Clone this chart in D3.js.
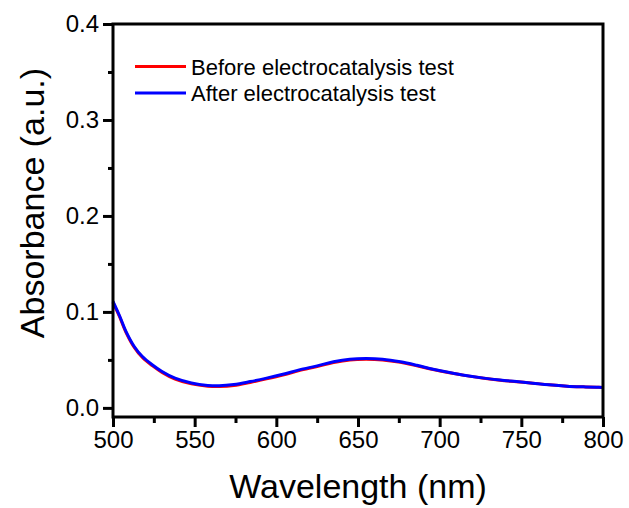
<!DOCTYPE html>
<html>
<head>
<meta charset="utf-8">
<script src="https://cdn.jsdelivr.net/npm/d3@7"></script>
<style>
  body { margin: 0; background: #fff; }
  text { font-family: "Liberation Sans", Arial, sans-serif; }
</style>
</head>
<body>
<div id="chart"></div>
<script>
// wavelength samples (nm)
var wavelength = [500, 504, 508, 513, 518, 524, 530, 538, 548, 558, 565, 574, 584, 594, 604, 614, 625, 635, 645, 655, 665, 676, 686, 696, 706, 716, 727, 737, 747, 757, 767, 778, 788, 796, 800];
// absorbance, before and after the test
var before = [0.110, 0.095, 0.0785, 0.0630, 0.0525, 0.0440, 0.0370, 0.0300, 0.0250, 0.0226, 0.0222, 0.0232, 0.0265, 0.0302, 0.0342, 0.0388, 0.0430, 0.0472, 0.0500, 0.0507, 0.0500, 0.0474, 0.0438, 0.0400, 0.0366, 0.0336, 0.0309, 0.0289, 0.0273, 0.0257, 0.0240, 0.0226, 0.0219, 0.0215, 0.0213];
var after  = [0.111, 0.096, 0.0795, 0.0640, 0.0535, 0.0450, 0.0380, 0.0310, 0.0260, 0.0234, 0.0230, 0.0243, 0.0274, 0.0310, 0.0350, 0.0396, 0.0438, 0.0480, 0.0507, 0.0514, 0.0507, 0.0480, 0.0444, 0.0403, 0.0368, 0.0337, 0.0310, 0.0290, 0.0274, 0.0257, 0.0240, 0.0226, 0.0219, 0.0215, 0.0213];
var seriesNames = ["Before electrocatalysis test", "After electrocatalysis test"];
var seriesColors = ["#ff0000", "#0000ff"];
var xTicks = [500, 550, 600, 650, 700, 750, 800];
var yTicks = [0.0, 0.1, 0.2, 0.3, 0.4];

var svgWidth = 629;
var svgHeight = 508;
var margin = { top: 24, right: 26, bottom: 91, left: 113 };
var chartWidth = svgWidth - margin.left - margin.right;
var chartHeight = svgHeight - margin.top - margin.bottom;

var svg = d3.select("#chart")
  .append("svg")
  .attr("width", svgWidth)
  .attr("height", svgHeight);

var g = svg.append("g")
  .attr("transform", `translate(${margin.left}, ${margin.top})`);

var x = d3.scaleLinear().domain([500, 800]).range([0, chartWidth]);
var y = d3.scaleLinear().domain([-0.0095, 0.4]).range([chartHeight, 0]);

// minor ticks first
g.append("g")
  .attr("transform", `translate(0, ${chartHeight})`)
  .call(d3.axisBottom(x).tickValues(d3.range(525, 800, 50)).tickSize(6).tickFormat(""))
  .call(a => a.select(".domain").remove())
  .selectAll("line").attr("stroke-width", 3);

g.append("g")
  .call(d3.axisLeft(y).tickValues([0.05, 0.15, 0.25, 0.35]).tickSize(5).tickFormat(""))
  .call(a => a.select(".domain").remove())
  .selectAll("line").attr("stroke-width", 3);

// major ticks
var xAxis = g.append("g")
  .attr("transform", `translate(0, ${chartHeight})`)
  .call(d3.axisBottom(x).tickValues(xTicks).tickSize(10).tickPadding(4).tickFormat(d3.format("d")));
xAxis.select(".domain").remove();
xAxis.selectAll("line").attr("stroke-width", 3);
xAxis.selectAll("text").attr("font-size", 24).attr("fill", "#000")
  .attr("font-family", "Liberation Sans, Arial, sans-serif");

var yAxis = g.append("g")
  .call(d3.axisLeft(y).tickValues(yTicks).tickSize(10).tickPadding(4).tickFormat(d3.format(".1f")));
yAxis.select(".domain").remove();
yAxis.selectAll("line").attr("stroke-width", 3);
yAxis.selectAll("text").attr("font-size", 24).attr("fill", "#000")
  .attr("font-family", "Liberation Sans, Arial, sans-serif");

// curves
var line = d3.line()
  .x((d, i) => x(wavelength[i]))
  .y(d => y(d))
  .curve(d3.curveCatmullRom);

[before, after].forEach(function(s, i) {
  g.append("path")
    .datum(s)
    .attr("fill", "none")
    .attr("stroke", seriesColors[i])
    .attr("stroke-width", 3)
    .attr("d", line);
});

// frame
g.append("rect")
  .attr("width", chartWidth)
  .attr("height", chartHeight)
  .attr("fill", "none")
  .attr("stroke", "#000")
  .attr("stroke-width", 3);

// legend
var legend = g.append("g").attr("transform", "translate(22, 42.5)");
seriesNames.forEach(function(name, i) {
  var row = legend.append("g").attr("transform", `translate(0, ${i * 26.5})`);
  row.append("line")
    .attr("x1", 0).attr("x2", 51)
    .attr("stroke", seriesColors[i])
    .attr("stroke-width", 3);
  row.append("text")
    .attr("x", 56)
    .attr("y", 8)
    .attr("font-size", 22)
    .text(name);
});

// axis titles
svg.append("text")
  .attr("x", margin.left + chartWidth / 2)
  .attr("y", 498)
  .attr("text-anchor", "middle")
  .attr("font-size", 34)
  .text("Wavelength (nm)");

svg.append("text")
  .attr("transform", `translate(44, 203) rotate(-90)`)
  .attr("text-anchor", "middle")
  .attr("font-size", 34)
  .text("Absorbance (a.u.)");
</script>
</body>
</html>
